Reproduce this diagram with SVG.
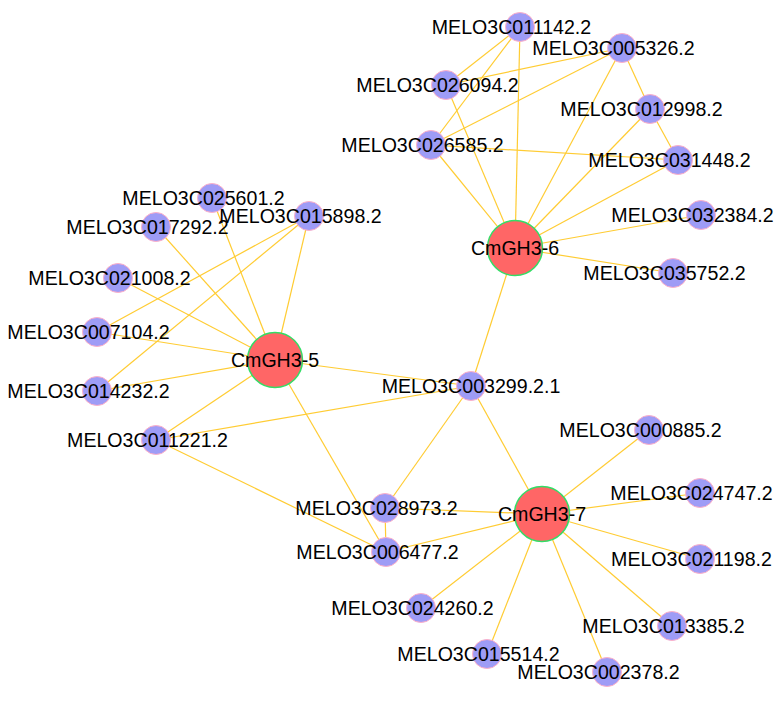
<svg xmlns="http://www.w3.org/2000/svg" width="784" height="702" viewBox="0 0 784 702">
<style>
.e{stroke:#FFCC33;stroke-width:1.2;fill:none}
.n{fill:#9E9CF6;stroke:#FFB0C8;stroke-width:1}
.h{fill:#FF6666;stroke:#33DD66;stroke-width:1.5}
text{font-family:"Liberation Sans",Arial,sans-serif;font-size:19.6px;fill:#000;text-anchor:middle}
</style>
<rect width="784" height="702" fill="#fff"/>
<g id="edges">
<line class="e" x1="515" y1="248" x2="520" y2="27"/>
<line class="e" x1="515" y1="248" x2="446" y2="85"/>
<line class="e" x1="515" y1="248" x2="431" y2="145"/>
<line class="e" x1="515" y1="248" x2="622" y2="48"/>
<line class="e" x1="515" y1="248" x2="650" y2="109"/>
<line class="e" x1="515" y1="248" x2="678" y2="160"/>
<line class="e" x1="515" y1="248" x2="701" y2="215"/>
<line class="e" x1="515" y1="248" x2="673" y2="273"/>
<line class="e" x1="515" y1="248" x2="471" y2="386"/>
<line class="e" x1="520" y1="27" x2="446" y2="85"/>
<line class="e" x1="520" y1="27" x2="431" y2="145"/>
<line class="e" x1="622" y1="48" x2="446" y2="85"/>
<line class="e" x1="622" y1="48" x2="431" y2="145"/>
<line class="e" x1="622" y1="48" x2="650" y2="109"/>
<line class="e" x1="650" y1="109" x2="678" y2="160"/>
<line class="e" x1="431" y1="145" x2="678" y2="160"/>
<line class="e" x1="275" y1="360" x2="156" y2="227"/>
<line class="e" x1="275" y1="360" x2="212" y2="198"/>
<line class="e" x1="275" y1="360" x2="309" y2="216"/>
<line class="e" x1="275" y1="360" x2="118" y2="278"/>
<line class="e" x1="275" y1="360" x2="97" y2="332"/>
<line class="e" x1="275" y1="360" x2="97" y2="391"/>
<line class="e" x1="275" y1="360" x2="156" y2="440"/>
<line class="e" x1="275" y1="360" x2="471" y2="386"/>
<line class="e" x1="275" y1="360" x2="386" y2="552"/>
<line class="e" x1="309" y1="216" x2="97" y2="332"/>
<line class="e" x1="309" y1="216" x2="97" y2="391"/>
<line class="e" x1="156" y1="440" x2="471" y2="386"/>
<line class="e" x1="156" y1="440" x2="386" y2="552"/>
<line class="e" x1="471" y1="386" x2="385" y2="508"/>
<line class="e" x1="471" y1="386" x2="542" y2="514"/>
<line class="e" x1="385" y1="508" x2="386" y2="552"/>
<line class="e" x1="542" y1="514" x2="649" y2="430"/>
<line class="e" x1="542" y1="514" x2="700" y2="493"/>
<line class="e" x1="542" y1="514" x2="700" y2="559"/>
<line class="e" x1="542" y1="514" x2="672" y2="626"/>
<line class="e" x1="542" y1="514" x2="607" y2="672"/>
<line class="e" x1="542" y1="514" x2="487" y2="654"/>
<line class="e" x1="542" y1="514" x2="421" y2="608"/>
<line class="e" x1="542" y1="514" x2="386" y2="552"/>
<line class="e" x1="542" y1="514" x2="385" y2="508"/>
</g>
<g id="n011142"><circle class="n" cx="520" cy="27" r="14.5"/><text x="511.5" y="34">MELO3C011142.2</text></g>
<g id="n005326"><circle class="n" cx="622" cy="48" r="14.5"/><text x="613.5" y="55">MELO3C005326.2</text></g>
<g id="n026094"><circle class="n" cx="446" cy="85" r="14.5"/><text x="437.5" y="92">MELO3C026094.2</text></g>
<g id="n012998"><circle class="n" cx="650" cy="109" r="14.5"/><text x="641.5" y="116">MELO3C012998.2</text></g>
<g id="n026585"><circle class="n" cx="431" cy="145" r="14.5"/><text x="422.5" y="152">MELO3C026585.2</text></g>
<g id="n031448"><circle class="n" cx="678" cy="160" r="14.5"/><text x="669.5" y="167">MELO3C031448.2</text></g>
<g id="n032384"><circle class="n" cx="701" cy="215" r="14.5"/><text x="692.5" y="222">MELO3C032384.2</text></g>
<g id="n035752"><circle class="n" cx="673" cy="273" r="14.5"/><text x="664.5" y="280">MELO3C035752.2</text></g>
<g id="n025601"><circle class="n" cx="212" cy="198" r="14.5"/><text x="203.5" y="205">MELO3C025601.2</text></g>
<g id="n017292"><circle class="n" cx="156" cy="227" r="14.5"/><text x="147.5" y="234">MELO3C017292.2</text></g>
<g id="n015898"><circle class="n" cx="309" cy="216" r="14.5"/><text x="300.5" y="223">MELO3C015898.2</text></g>
<g id="n021008"><circle class="n" cx="118" cy="278" r="14.5"/><text x="109.5" y="285">MELO3C021008.2</text></g>
<g id="n007104"><circle class="n" cx="97" cy="332" r="14.5"/><text x="88.5" y="339">MELO3C007104.2</text></g>
<g id="n014232"><circle class="n" cx="97" cy="391" r="14.5"/><text x="88.5" y="398">MELO3C014232.2</text></g>
<g id="n011221"><circle class="n" cx="156" cy="440" r="14.5"/><text x="147.5" y="447">MELO3C011221.2</text></g>
<g id="n003299"><circle class="n" cx="471" cy="386" r="14.5"/><text x="471" y="393">MELO3C003299.2.1</text></g>
<g id="n000885"><circle class="n" cx="649" cy="430" r="14.5"/><text x="640.5" y="437">MELO3C000885.2</text></g>
<g id="n024747"><circle class="n" cx="700" cy="493" r="14.5"/><text x="691.5" y="500">MELO3C024747.2</text></g>
<g id="n028973"><circle class="n" cx="385" cy="508" r="14.5"/><text x="376.5" y="515">MELO3C028973.2</text></g>
<g id="n006477"><circle class="n" cx="386" cy="552" r="14.5"/><text x="377.5" y="559">MELO3C006477.2</text></g>
<g id="n021198"><circle class="n" cx="700" cy="559" r="14.5"/><text x="691.5" y="566">MELO3C021198.2</text></g>
<g id="n024260"><circle class="n" cx="421" cy="608" r="14.5"/><text x="412.5" y="615">MELO3C024260.2</text></g>
<g id="n013385"><circle class="n" cx="672" cy="626" r="14.5"/><text x="663.5" y="633">MELO3C013385.2</text></g>
<g id="n015514"><circle class="n" cx="487" cy="654" r="14.5"/><text x="478.5" y="661">MELO3C015514.2</text></g>
<g id="n002378"><circle class="n" cx="607" cy="672" r="14.5"/><text x="598.5" y="679">MELO3C002378.2</text></g>
<g id="CmGH3-6"><circle class="h" cx="515" cy="248" r="27.5"/><text x="515" y="255">CmGH3-6</text></g>
<g id="CmGH3-5"><circle class="h" cx="275" cy="360" r="27.5"/><text x="275" y="367">CmGH3-5</text></g>
<g id="CmGH3-7"><circle class="h" cx="542" cy="514" r="27.5"/><text x="542" y="521">CmGH3-7</text></g>
</svg>
